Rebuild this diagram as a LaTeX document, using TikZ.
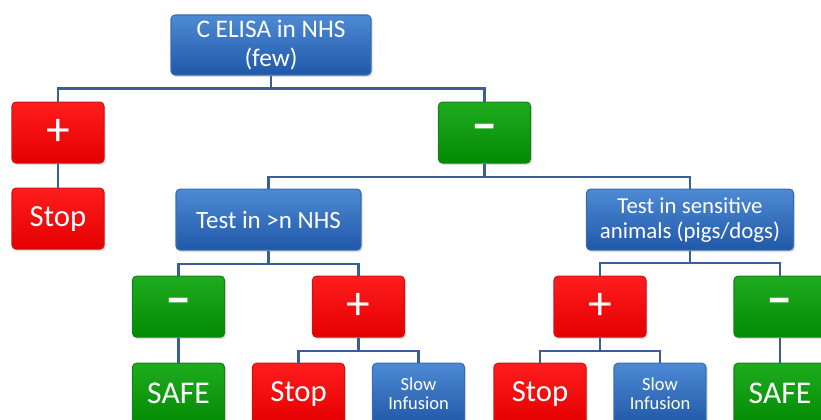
\documentclass[tikz,border=0pt]{standalone}
\usepackage{fontspec}
\setmainfont{Carlito}
\usetikzlibrary{positioning,shadows}

\definecolor{bluetop}{RGB}{78,138,212}
\definecolor{bluebot}{RGB}{32,88,168}
\definecolor{blueedge}{RGB}{58,108,178}
\definecolor{redtop}{RGB}{255,28,28}
\definecolor{redbot}{RGB}{228,0,0}
\definecolor{rededge}{RGB}{205,20,20}
\definecolor{greentop}{RGB}{30,172,30}
\definecolor{greenbot}{RGB}{4,138,4}
\definecolor{greenedge}{RGB}{20,130,20}
\definecolor{linkcol}{RGB}{58,94,152}

\begin{document}
\begin{tikzpicture}[
	box/.style={rectangle, rounded corners=0.08cm, text=white, align=center, inner sep=0pt,
		minimum width=1.84cm, minimum height=1.22cm, line width=0.6pt,
		drop shadow={opacity=0.25, shadow xshift=0.03cm, shadow yshift=-0.04cm}},
	bluebox/.style={box, draw=blueedge, top color=bluetop, bottom color=bluebot},
	redbox/.style={box, draw=rededge, top color=redtop, bottom color=redbot},
	greenbox/.style={box, draw=greenedge, top color=greentop, bottom color=greenbot},
	plussign/.style={font=\fontsize{27}{27}\selectfont},
	minussign/.style={font=\fontsize{30}{30}\selectfont\bfseries},
	word/.style={font=\fontsize{17.5}{17.5}\selectfont},
	small/.style={font=\fontsize{10.5}{11.2}\selectfont},
	link/.style={draw=linkcol, line width=1.2pt}
	]

	\useasboundingbox (0,0) rectangle (16.42,-8.4);
	\clip (0,0) rectangle (16.42,-8.4);

	\node (elisa) [bluebox, minimum width=4cm, minimum height=1.2cm, font=\fontsize{14.4}{16}\selectfont] at (5.42,-0.9) {C ELISA in NHS\\(few)};

		\node (pos) [redbox, plussign, below=0.52cm of elisa, xshift=-4.26cm] {+};
			\node (stopa) [redbox, word, below=0.48cm of pos] {Stop};

		\node (neg) [greenbox, minussign, below=0.52cm of elisa, xshift=4.27cm] {--};
			\node (testnhs) [bluebox, minimum width=3.7cm, font=\fontsize{14.2}{16}\selectfont, below=0.5cm of neg, xshift=-4.32cm] {Test in >n NHS};
				\node (nhsneg) [greenbox, minussign, below=0.5cm of testnhs, xshift=-1.8cm] {--};
					\node (safea) [greenbox, word, font=\fontsize{18}{18}\selectfont, below=0.5cm of nhsneg] {SAFE};
				\node (nhspos) [redbox, plussign, below=0.5cm of testnhs, xshift=1.8cm] {+};
					\node (stopb) [redbox, word, below=0.5cm of nhspos, xshift=-1.2cm] {Stop};
					\node (slowb) [bluebox, small, below=0.5cm of nhspos, xshift=1.2cm] {Slow\\Infusion};
			\node (testanim) [bluebox, minimum width=4.14cm, font=\fontsize{13}{14.2}\selectfont, below=0.5cm of neg, xshift=4.11cm] {Test in sensitive\\animals (pigs/dogs)};
				\node (animpos) [redbox, plussign, below=0.5cm of testanim, xshift=-1.8cm] {+};
					\node (stopc) [redbox, word, below=0.5cm of animpos, xshift=-1.2cm] {Stop};
					\node (slowc) [bluebox, small, below=0.5cm of animpos, xshift=1.2cm] {Slow\\Infusion};
				\node (animneg) [greenbox, minussign, below=0.5cm of testanim, xshift=1.8cm] {--};
					\node (safeb) [greenbox, word, font=\fontsize{18}{18}\selectfont, below=0.5cm of animneg] {SAFE};

	\draw [link] (elisa.south)--++(0,-.26)-| (pos.north);
	\draw [link] (elisa.south)--++(0,-.26)-| (neg.north);
	\draw [link] (pos.south)-- (stopa.north);

	\draw [link] (neg.south)--++(0,-.26)-| (testnhs.north);
	\draw [link] (neg.south)--++(0,-.26)-| (testanim.north);

	\draw [link] (testnhs.south)--++(0,-.26)-| (nhsneg.north);
	\draw [link] (testnhs.south)--++(0,-.26)-| (nhspos.north);
	\draw [link] (nhsneg.south)-- (safea.north);
	\draw [link] (nhspos.south)--++(0,-.26)-| (stopb.north);
	\draw [link] (nhspos.south)--++(0,-.26)-| (slowb.north);

	\draw [link] (testanim.south)--++(0,-.24)-| (animpos.north);
	\draw [link] (testanim.south)--++(0,-.24)-| (animneg.north);
	\draw [link] (animpos.south)--++(0,-.26)-| (stopc.north);
	\draw [link] (animpos.south)--++(0,-.26)-| (slowc.north);
	\draw [link] (animneg.south)-- (safeb.north);

\end{tikzpicture}
\end{document}
